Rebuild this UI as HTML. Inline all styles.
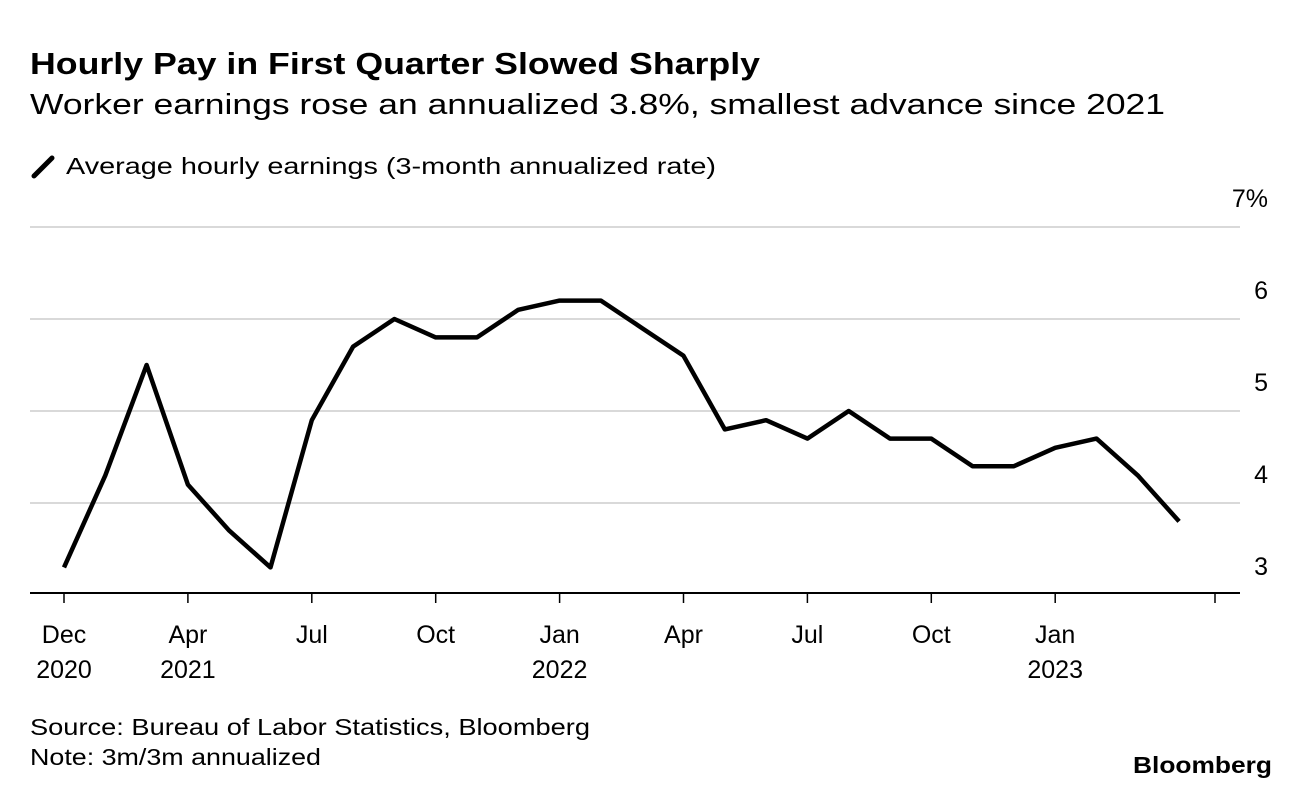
<!DOCTYPE html>
<html><head><meta charset="utf-8"><style>
body{margin:0;background:#fff;font-family:"Liberation Sans",Arial,sans-serif;color:#000}
svg{display:block}
</style></head><body>
<svg id="c" width="1296" height="796" xmlns="http://www.w3.org/2000/svg">
<text x="30" y="74" font-size="31" font-weight="bold" textLength="730" lengthAdjust="spacingAndGlyphs">Hourly Pay in First Quarter Slowed Sharply</text>
<text x="30" y="114" font-size="29" textLength="1135" lengthAdjust="spacingAndGlyphs">Worker earnings rose an annualized 3.8%, smallest advance since 2021</text>
<line x1="34" y1="176" x2="52" y2="158" stroke="#000" stroke-width="5" stroke-linecap="round"/>
<text x="66" y="174" font-size="23" textLength="650" lengthAdjust="spacingAndGlyphs">Average hourly earnings (3-month annualized rate)</text>
<g id="grid"></g><g id="xax"></g>
<path id="line" fill="none" stroke="#000" stroke-width="4.5" stroke-linejoin="round"/>
<text x="30" y="735" font-size="23" textLength="560" lengthAdjust="spacingAndGlyphs">Source: Bureau of Labor Statistics, Bloomberg</text>
<text x="30" y="765" font-size="23" textLength="291" lengthAdjust="spacingAndGlyphs">Note: 3m/3m annualized</text>
<text x="1272" y="773" font-size="23" font-weight="bold" text-anchor="end" textLength="139" lengthAdjust="spacingAndGlyphs">Bloomberg</text>
</svg>
<script>
const values=[3.3,4.3,5.5,4.2,3.7,3.3,4.9,5.7,6.0,5.8,5.8,6.1,6.2,6.2,5.9,5.6,4.8,4.9,4.7,5.0,4.7,4.7,4.4,4.4,4.6,4.7,4.3,3.8];
const yTicks=[3,4,5,6,7];
const yLabels=["3","4","5","6","7%"];
const xTickIdx=[0,3,6,9,12,15,18,21,24];
const xTickL1=["Dec","Apr","Jul","Oct","Jan","Apr","Jul","Oct","Jan"];
const xTickL2=["2020","2021","","","2022","","","","2023"];
const NS="http://www.w3.org/2000/svg";
const x=i=>64+i*41.3;
const y=v=>595-(v-3)*92;
const g=document.getElementById('grid'),xa=document.getElementById('xax');
function mk(p,t,a){const e=document.createElementNS(NS,t);for(const k in a)e.setAttribute(k,a[k]);p.appendChild(e);return e;}
yTicks.forEach((v,i)=>{
  if(v>3){const l=mk(g,'line',{x1:30,x2:1240,y1:y(v),y2:y(v),stroke:'#d9d9d9','stroke-width':2});
  
  }
  const t=mk(g,'text',{x:1268,y:y(v)-20,'font-size':25,'text-anchor':'end'});t.textContent=yLabels[i];
  
  
});
const base=mk(xa,'line',{x1:30,x2:1240,y1:593,y2:593,stroke:'#000','stroke-width':2});


xTickIdx.forEach((idx,i)=>{
  const tk=mk(xa,'line',{x1:x(idx),x2:x(idx),y1:593,y2:603,stroke:'#000','stroke-width':1.5});
  
  
  const t=mk(xa,'text',{x:x(idx),y:643,'font-size':25,'text-anchor':'middle'});t.textContent=xTickL1[i];
  
  
  if(xTickL2[i]){const t2=mk(xa,'text',{x:x(idx),y:678,'font-size':25,'text-anchor':'middle'});t2.textContent=xTickL2[i];
  
  }
});
const extra=mk(xa,'line',{x1:1215,x2:1215,y1:593,y2:603,stroke:'#000','stroke-width':1.5});


document.getElementById('line').setAttribute('d',values.map((v,i)=>(i?'L':'M')+x(i)+' '+y(v)).join(' '));
</script>
</body></html>
